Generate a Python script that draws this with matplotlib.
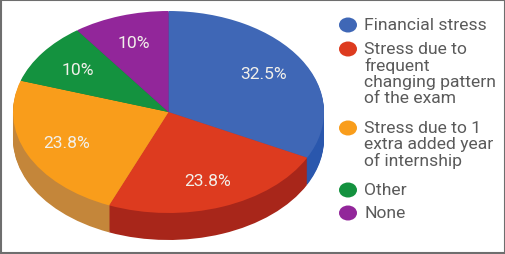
import matplotlib
matplotlib.use("Agg")
import matplotlib.pyplot as plt
from matplotlib.patches import Ellipse, Rectangle

plt.rcParams['font.family'] = ['Roboto', 'DejaVu Sans']

# values in chart order, clockwise from the top
names = ["Financial stress",
         "Stress due to\nfrequent\nchanging pattern\nof the exam",
         "Stress due to 1\nextra added year\nof internship",
         "Other",
         "None"]
values = [32.5, 23.8, 23.8, 10, 10]
pct_labels = ["32.5%", "23.8%", "23.8%", "10%", "10%"]
top_colors = ["#3f67b6", "#dd3b1f", "#f99d1b", "#14923f", "#92269a"]
side_colors = ["#2a57ad", "#a8261a", "#c4863a", "#0f7a34", "#741e7c"]

W, H = 505, 255
fig = plt.figure(figsize=(W / 100, H / 100), dpi=100, facecolor="white")

# pie axes: top ellipse is 311 x 202 px, with 27 px of depth below it
depth = 27
ax = fig.add_axes([13 / W, (H - 12 - 202 - depth) / H, 311 / W, (202 + depth) / H])

# side wall, stacked pies going down one pixel at a time
for d in range(depth, 0, -1):
    ax.pie(values, colors=side_colors, startangle=90, counterclock=False,
           center=(0, -d / 101), radius=1)

wedges, texts = ax.pie(values, colors=top_colors, startangle=90, counterclock=False,
                       labels=pct_labels, labeldistance=0.72, center=(0, 0), radius=1,
                       textprops=dict(color="#f2f0ea", fontsize=12.6))
for t in texts:
    t.set_ha("center")
    t.set_va("center")

ax.set_aspect("auto")
ax.set_xlim(-1, 1)
ax.set_ylim(-1 - depth / 101, 1)
ax.axis("off")

# overlay in pixel coordinates for the legend and the frame
over = fig.add_axes([0, 0, 1, 1], facecolor="none")
over.set_xlim(0, W)
over.set_ylim(H, 0)
over.axis("off")

legend_y = [26, 50, 129, 191, 214]
for name, col, y in zip(names, top_colors, legend_y):
    over.add_patch(Ellipse((348, y), 18, 15, color=col, lw=0))
    over.text(364, y - 8, name, color="#5a5a5a", fontsize=12.6, va="top", ha="left",
              linespacing=1.08)

over.add_patch(Rectangle((0.5, 0.5), W - 1, H - 1.5, fill=False, ec="#6e6e6e", lw=1.5))

plt.savefig("out.png", dpi=100)
